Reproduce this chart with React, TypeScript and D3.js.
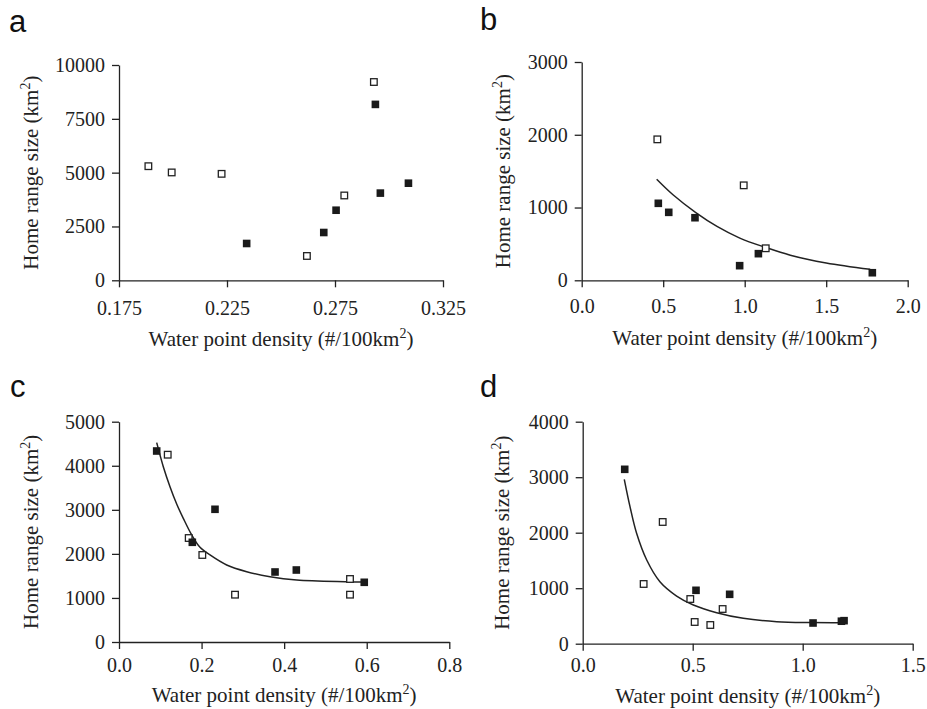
import React, { useEffect, useRef } from "react";
import * as d3 from "d3";

const W = 927;
const H = 709;

// panel a
const aXTicks = [0.175, 0.225, 0.275, 0.325];
const aYTicks = [0, 2500, 5000, 7500, 10000];
const aOpen = [[0.1886, 5300], [0.1994, 5010], [0.2225, 4945], [0.262, 1130], [0.2793, 3940], [0.293, 9210]];
const aFilled = [[0.2341, 1710], [0.2698, 2220], [0.2755, 3255], [0.2937, 8170], [0.296, 4050], [0.309, 4510]];

// panel b
const bXTicks = [0, 0.5, 1, 1.5, 2];
const bYTicks = [0, 1000, 2000, 3000];
const bOpen = [[0.464, 1937], [0.994, 1305], [1.129, 440]];
const bFilled = [[0.47, 1058], [0.534, 934], [0.695, 860], [0.969, 201], [1.084, 366], [1.783, 104]];
const bCurve = [[0.46, 1388], [0.56, 1175], [0.7, 930], [0.83, 740], [0.97, 580], [1.13, 450], [1.28, 345], [1.5, 238], [1.77, 151]];

// panel c
const cXTicks = [0, 0.2, 0.4, 0.6, 0.8];
const cYTicks = [0, 1000, 2000, 3000, 4000, 5000];
const cOpen = [[0.118, 4251], [0.1688, 2360], [0.2018, 1975], [0.281, 1074], [0.5595, 1430], [0.5595, 1074]];
const cFilled = [[0.0913, 4335], [0.1776, 2263], [0.2325, 3012], [0.3779, 1589], [0.4295, 1634], [0.594, 1355]];
const cCurve = [[0.0913, 4524], [0.1073, 3979], [0.1235, 3525], [0.1397, 3132], [0.1557, 2807], [0.1761, 2430], [0.1962, 2149],
  [0.2204, 1975], [0.2608, 1748], [0.3093, 1596], [0.3657, 1482], [0.4304, 1407], [0.5515, 1369], [0.5917, 1362]];

// panel d
const dXTicks = [0, 0.5, 1, 1.5];
const dYTicks = [0, 1000, 2000, 3000, 4000];
const dOpen = [[0.277, 1076], [0.3636, 2193], [0.489, 805], [0.509, 391], [0.58, 337], [0.636, 625]];
const dFilled = [[0.191, 3142], [0.515, 962], [0.668, 890], [1.047, 373], [1.176, 405], [1.188, 415]];
const dCurve = [[0.189, 2962], [0.215, 2469], [0.245, 1989], [0.291, 1508], [0.351, 1117], [0.427, 859], [0.503, 697],
  [0.609, 559], [0.73, 457], [0.882, 396], [1.033, 380], [1.185, 378]];

const INK = "#222";
const SERIF = "'Liberation Serif', 'Times New Roman', serif";

const panels = [
  { letter: "a", lx: 9, ly: 32, left: 119, right: 443, top: 65, bottom: 280.3, xTicks: aXTicks, yTicks: aYTicks, xFmt: ".3f",
    open: aOpen, filled: aFilled, curve: null, xPad: 14, xLab: 66, yLabX: 31, openOnTop: false },
  { letter: "b", lx: 480, ly: 29.5, left: 581.7, right: 907.7, top: 62, bottom: 280.3, xTicks: bXTicks, yTicks: bYTicks, xFmt: ".1f",
    open: bOpen, filled: bFilled, curve: bCurve, xPad: 12, xLab: 65, yLabX: 503, openOnTop: true },
  { letter: "c", lx: 10, ly: 396.7, left: 119, right: 449.3, top: 421.7, bottom: 642, xTicks: cXTicks, yTicks: cYTicks, xFmt: ".1f",
    open: cOpen, filled: cFilled, curve: cCurve, xPad: 9, xLab: 60, yLabX: 31, openOnTop: false },
  { letter: "d", lx: 480, ly: 396.7, left: 582.7, right: 912.7, top: 421.7, bottom: 643.7, xTicks: dXTicks, yTicks: dYTicks, xFmt: ".1f",
    open: dOpen, filled: dFilled, curve: dCurve, xPad: 7, xLab: 59, yLabX: 502, openOnTop: false },
];

function drawPanel(svg: any, p: any) {
  const x = d3.scaleLinear().domain([p.xTicks[0], p.xTicks[p.xTicks.length - 1]]).range([p.left, p.right]);
  const y = d3.scaleLinear().domain([p.yTicks[0], p.yTicks[p.yTicks.length - 1]]).range([p.bottom, p.top]);
  const g = svg.append("g");

  const xAxis = g.append("g").attr("transform", `translate(0,${p.bottom})`)
    .call(d3.axisBottom(x).tickValues(p.xTicks).tickFormat(d3.format(p.xFmt)).tickSize(7).tickSizeOuter(0).tickPadding(p.xPad));
  const yAxis = g.append("g").attr("transform", `translate(${p.left},0)`)
    .call(d3.axisLeft(y).tickValues(p.yTicks).tickFormat(d3.format("d")).tickSize(7).tickSizeOuter(0).tickPadding(7));
  [xAxis, yAxis].forEach((a) => {
    a.attr("font-family", SERIF).attr("font-size", 20);
    a.selectAll("path, line").attr("stroke", INK).attr("stroke-width", 1.3);
    a.selectAll("text").attr("fill", INK).style("font-family", SERIF).style("font-size", "20px");
  });

  if (p.curve) {
    const line = d3.line().x((d: any) => x(d[0])).y((d: any) => y(d[1])).curve(d3.curveCatmullRom.alpha(0.5));
    g.append("path").attr("d", line(p.curve)).attr("fill", "none").attr("stroke", INK).attr("stroke-width", 1.5);
  }

  const drawOpen = () => g.append("g").selectAll("rect").data(p.open).join("rect")
    .attr("x", (d: any) => x(d[0]) - 3.3).attr("y", (d: any) => y(d[1]) - 3.3)
    .attr("width", 6.6).attr("height", 6.6).attr("fill", "#fff").attr("stroke", INK).attr("stroke-width", 1.3);
  const drawFilled = () => g.append("g").selectAll("rect").data(p.filled).join("rect")
    .attr("x", (d: any) => x(d[0]) - 3.8).attr("y", (d: any) => y(d[1]) - 3.8)
    .attr("width", 7.6).attr("height", 7.6).attr("fill", "#1a1a1a");
  if (p.openOnTop) { drawFilled(); drawOpen(); } else { drawOpen(); drawFilled(); }

  // x axis title
  const xt = g.append("text").attr("x", (p.left + p.right) / 2).attr("y", p.bottom + p.xLab)
    .attr("text-anchor", "middle").style("font-family", SERIF).attr("font-size", 21).attr("fill", INK);
  xt.append("tspan").text("Water point density (#/100km");
  xt.append("tspan").attr("dy", -8).attr("font-size", 14).text("2");
  xt.append("tspan").attr("dy", 8).text(")");

  // y axis title
  const yt = g.append("text")
    .attr("transform", `translate(${p.yLabX},${(p.top + p.bottom) / 2}) rotate(-90)`)
    .attr("dy", "0.35em").attr("text-anchor", "middle").style("font-family", SERIF).attr("font-size", 21).attr("fill", INK);
  yt.append("tspan").text("Home range size (km");
  yt.append("tspan").attr("dy", -8).attr("font-size", 14).text("2");
  yt.append("tspan").attr("dy", 8).text(")");

  g.append("text").attr("x", p.lx).attr("y", p.ly).style("font-family", "'Liberation Sans', Arial, sans-serif")
    .attr("font-size", 31).attr("fill", "#111").text(p.letter);
}

export default function App() {
  const ref = useRef<SVGSVGElement>(null);
  useEffect(() => {
    const svg = d3.select(ref.current);
    svg.selectAll("*").remove();
    panels.forEach((p) => drawPanel(svg, p));
  }, []);
  return (
    <svg ref={ref} width={W} height={H} style={{ position: "absolute", left: 0, top: 0, background: "#fff" }} />
  );
}
